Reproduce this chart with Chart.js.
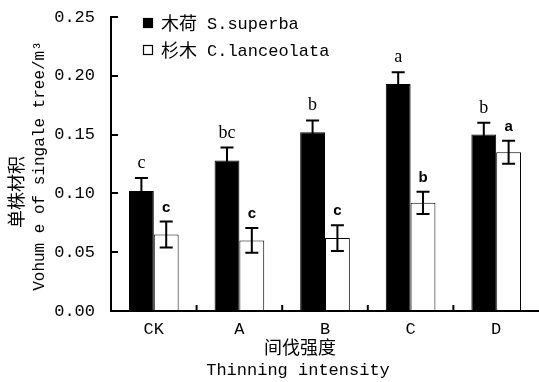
<!DOCTYPE html>
<html>
<head>
<meta charset="utf-8">
<script src="https://cdn.jsdelivr.net/npm/chart.js@4/dist/chart.umd.min.js"></script>
<style>
html,body{margin:0;padding:0;background:#fff;}
#wrap{width:539px;height:382px;position:relative;}
</style>
</head>
<body>
<div id="wrap"><canvas id="c" width="539" height="382"></canvas></div>
<script>
const categories = ['CK', 'A', 'B', 'C', 'D'];
const seriesNames = ['木荷 S.superba', '杉木 C.lanceolata'];
const superbaValues = [0.102, 0.128, 0.152, 0.193, 0.150];
const superbaErrors = [0.011, 0.011, 0.010, 0.010, 0.010];
const superbaLetters = ['c', 'bc', 'b', 'a', 'b'];
const lanceolataValues = [0.065, 0.060, 0.062, 0.092, 0.135];
const lanceolataErrors = [0.011, 0.0105, 0.011, 0.0095, 0.0097];
const lanceolataLetters = ['c', 'c', 'c', 'b', 'a'];
const yTicks = [0, 0.05, 0.10, 0.15, 0.20, 0.25];

const MONO = '"Liberation Mono", "DejaVu Sans Mono", monospace';
const CJK = '"Noto Sans CJK SC", sans-serif';

const errors = [superbaErrors, lanceolataErrors];
const letters = [superbaLetters, lanceolataLetters];

const decor = {
  id: 'decor',
  afterDatasetsDraw(chart) {
    const ctx = chart.ctx;
    const xs = chart.scales.x, ys = chart.scales.y;
    const area = chart.chartArea;
    ctx.save();
    // error bars and letters
    chart.data.datasets.forEach((ds, di) => {
      const meta = chart.getDatasetMeta(di);
      meta.data.forEach((el, i) => {
        const v = ds.data[i], e = errors[di][i];
        const yt = ys.getPixelForValue(v + e);
        const yb = ys.getPixelForValue(v - e);
        const x = el.x;
        ctx.strokeStyle = '#000';
        ctx.lineWidth = 2;
        ctx.beginPath();
        ctx.moveTo(x, yt); ctx.lineTo(x, yb);
        ctx.moveTo(x - 6.5, yt); ctx.lineTo(x + 6.5, yt);
        ctx.moveTo(x - 6.5, yb); ctx.lineTo(x + 6.5, yb);
        ctx.stroke();
        ctx.fillStyle = '#000';
        ctx.textAlign = 'center';
        ctx.textBaseline = 'alphabetic';
        if (di === 0) {
          ctx.font = '18px "Liberation Serif", serif';
        } else {
          ctx.font = 'bold 15px "Liberation Sans", sans-serif';
        }
        ctx.fillText(letters[di][i], x, yt - 10);
      });
    });
    // inward ticks on y axis
    ctx.strokeStyle = '#000';
    ctx.lineWidth = 2;
    ctx.beginPath();
    yTicks.forEach(t => {
      const y = Math.round(ys.getPixelForValue(t));
      ctx.moveTo(area.left, y); ctx.lineTo(area.left + 7, y);
    });
    // inward ticks on x axis at category boundaries
    for (let i = 1; i < categories.length; i++) {
      const x = (xs.getPixelForValue(i - 1) + xs.getPixelForValue(i)) / 2;
      ctx.moveTo(x, area.bottom); ctx.lineTo(x, area.bottom - 6);
    }
    ctx.stroke();
    // legend
    const lx = 143, ly = [23, 50];
    chart.data.datasets.forEach((ds, di) => {
      ctx.lineWidth = 1.2;
      ctx.strokeStyle = '#000';
      ctx.fillStyle = ds.backgroundColor;
      ctx.fillRect(lx, ly[di] - 5, 10, 10);
      ctx.strokeRect(lx + 0.5, ly[di] - 4.5, 9, 9);
      const parts = ds.label.split(' ');
      ctx.fillStyle = '#000';
      ctx.textAlign = 'left';
      ctx.textBaseline = 'middle';
      ctx.font = '18px ' + CJK;
      ctx.fillText(parts[0], 161, ly[di]);
      ctx.font = '17px ' + MONO;
      ctx.fillText(parts[1], 207, ly[di] + 1);
    });
    // axis titles
    ctx.fillStyle = '#000';
    ctx.textAlign = 'center';
    ctx.textBaseline = 'middle';
    ctx.font = '18px ' + CJK;
    ctx.fillText('间伐强度', 300, 347);
    ctx.font = '17px ' + MONO;
    ctx.fillText('Thinning intensity', 298, 370);
    ctx.save();
    ctx.translate(16, 192);
    ctx.rotate(-Math.PI / 2);
    ctx.font = '18px ' + CJK;
    ctx.fillText('单株材积', 0, 0);
    ctx.restore();
    ctx.save();
    ctx.translate(40, 166);
    ctx.rotate(-Math.PI / 2);
    ctx.font = '16px ' + MONO;
    ctx.fillText('Vohum e of singale tree/m³', 0, 0);
    ctx.restore();
    ctx.restore();
  }
};

new Chart(document.getElementById('c'), {
  type: 'bar',
  data: {
    labels: categories,
    datasets: [
      { label: seriesNames[0], data: superbaValues, backgroundColor: '#000000', borderColor: '#000000', borderWidth: 1, borderSkipped: false },
      { label: seriesNames[1], data: lanceolataValues, backgroundColor: '#ffffff', borderColor: '#000000', borderWidth: 1, borderSkipped: false }
    ]
  },
  options: {
    responsive: false,
    animation: false,
    devicePixelRatio: 1,
    layout: { padding: { top: 17, right: 0, left: 0, bottom: 0 } },
    categoryPercentage: 0.58,
    barPercentage: 1.0,
    plugins: { legend: { display: false }, tooltip: { enabled: false } },
    scales: {
      x: {
        grid: { display: false, drawTicks: false },
        border: { display: true, color: '#000', width: 2 },
        ticks: { color: '#000', font: { family: MONO, size: 17 }, padding: 8 },
        afterFit(s) { s.height = 71; s.paddingLeft = 0; s.paddingRight = 0; }
      },
      y: {
        min: 0, max: 0.25,
        grid: { display: false, drawTicks: false },
        border: { display: true, color: '#000', width: 2 },
        ticks: {
          stepSize: 0.05, color: '#000', padding: 16,
          font: { family: MONO, size: 17 },
          callback: v => Number(v).toFixed(2)
        },
        afterFit(s) { s.width = 111; s.paddingTop = 0; s.paddingBottom = 0; }
      }
    }
  },
  plugins: [decor]
});
</script>
</body>
</html>
